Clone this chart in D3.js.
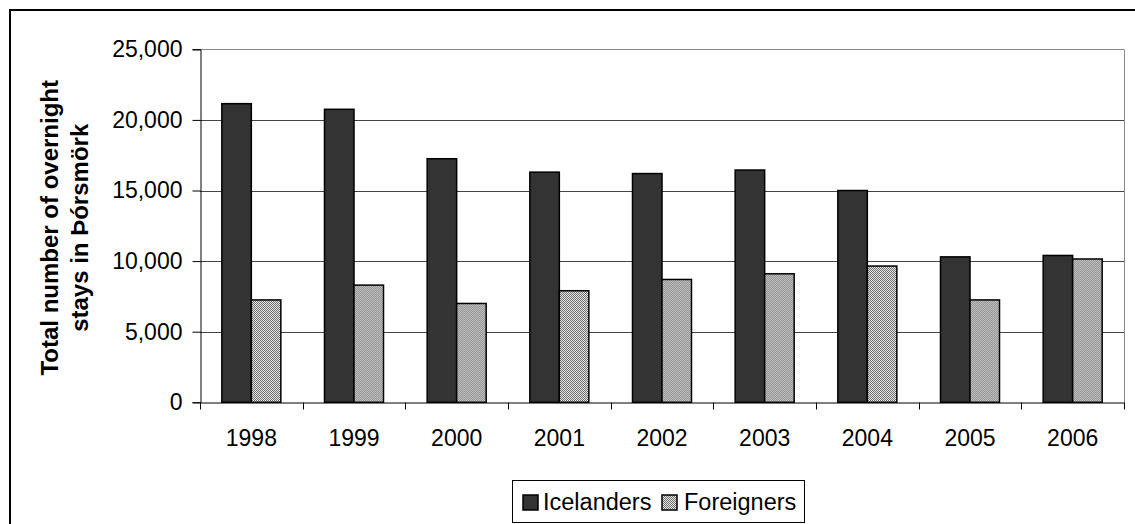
<!DOCTYPE html>
<html>
<head>
<meta charset="utf-8">
<script src="https://cdn.jsdelivr.net/npm/d3@7/dist/d3.min.js"></script>
<style>
  html, body { margin: 0; padding: 0; background: #fff; }
  svg { display: block; font-family: "Liberation Sans", Arial, sans-serif; }
</style>
</head>
<body>
<svg id="chart" width="1135" height="524"></svg>
<script>
const years = ["1998", "1999", "2000", "2001", "2002", "2003", "2004", "2005", "2006"];
const icelanders = [21150, 20750, 17250, 16300, 16200, 16450, 15000, 10300, 10400];
const foreigners = [7250, 8300, 7000, 7900, 8700, 9100, 9650, 7250, 10150];
const seriesNames = ["Icelanders", "Foreigners"];
const yTicks = [0, 5000, 10000, 15000, 20000, 25000];

const svg = d3.select("#chart");
const W = 1135, H = 524;
const plot = { left: 200, right: 1124, top: 49.3, bottom: 402.3 };

// pattern for foreigners
const defs = svg.append("defs");
const pat = defs.append("pattern").attr("id", "chk").attr("patternUnits", "userSpaceOnUse")
  .attr("width", 2).attr("height", 2);
pat.append("rect").attr("width", 2).attr("height", 2).attr("fill", "#e6e6e6");
pat.append("rect").attr("x", 0).attr("y", 0).attr("width", 1).attr("height", 1).attr("fill", "#6e6e6e");
pat.append("rect").attr("x", 1).attr("y", 1).attr("width", 1).attr("height", 1).attr("fill", "#6e6e6e");

// outer border
svg.append("rect").attr("x", 10).attr("y", 10).attr("width", W).attr("height", H)
  .attr("fill", "none").attr("stroke", "#000").attr("stroke-width", 2);

const x = d3.scaleBand().domain(years).range([plot.left, plot.right]).paddingInner(0).paddingOuter(0);
const xs = d3.scaleBand().domain(seriesNames).range([0, x.bandwidth()]).paddingInner(0).paddingOuter(0.74);
const y = d3.scaleLinear().domain([0, 25000]).range([plot.bottom, plot.top]);

// gridlines
svg.append("g").selectAll("line").data(yTicks.filter(d => d > 0)).join("line")
  .attr("x1", plot.left).attr("x2", plot.right)
  .attr("y1", d => Math.round(y(d)) + 0.5).attr("y2", d => Math.round(y(d)) + 0.5)
  .attr("stroke", d => d === 25000 ? "#888" : "#444").attr("stroke-width", 1);

// right plot border
svg.append("line").attr("x1", plot.right + 0.5).attr("x2", plot.right + 0.5)
  .attr("y1", Math.round(plot.top) + 0.5).attr("y2", plot.bottom)
  .attr("stroke", "#888").attr("stroke-width", 1);

// bars
const data = years.map((yr, i) => ({ year: yr, values: [icelanders[i], foreigners[i]] }));
const groups = svg.append("g").selectAll("g").data(data).join("g")
  .attr("transform", d => `translate(${x(d.year)},0)`);
groups.selectAll("rect").data(d => d.values.map((v, k) => ({ k, v }))).join("rect")
  .attr("x", d => xs(seriesNames[d.k]))
  .attr("width", xs.bandwidth())
  .attr("y", d => y(d.v))
  .attr("height", d => y(0) - y(d.v))
  .attr("fill", d => d.k === 0 ? "#333333" : "url(#chk)")
  .attr("stroke", "#000").attr("stroke-width", 1.5);

// y axis
const yAxis = d3.axisLeft(y).tickValues(yTicks).tickSize(8).tickPadding(10)
  .tickFormat(d3.format(","));
const gy = svg.append("g").attr("transform", `translate(${plot.left + 0.5},0)`).call(yAxis);
gy.selectAll("path.domain").attr("stroke", "#000");
gy.selectAll(".tick line").attr("stroke", "#000");
gy.selectAll("text").attr("font-size", 23).attr("fill", "#000")
  .attr("font-family", "Liberation Sans, Arial, sans-serif");

// x axis
const xAxis = d3.axisBottom(x).tickSize(0).tickPadding(0);
const gx = svg.append("g").attr("transform", `translate(0,${Math.round(plot.bottom) + 0.5})`).call(xAxis);
gx.selectAll("path.domain").attr("stroke", "#000");
gx.selectAll("text").attr("font-size", 23).attr("fill", "#000")
  .attr("font-family", "Liberation Sans, Arial, sans-serif")
  .attr("dy", null).attr("y", 43);
// tick marks at band boundaries
const bounds = years.map(d => x(d)).concat([plot.right]);
gx.append("g").selectAll("line").data(bounds).join("line")
  .attr("x1", d => Math.round(d) + 0.5).attr("x2", d => Math.round(d) + 0.5)
  .attr("y1", 0).attr("y2", 7).attr("stroke", "#000");

// y axis title
const title = svg.append("text")
  .attr("transform", `translate(58,${(plot.top + plot.bottom) / 2 + 2}) rotate(-90)`)
  .attr("text-anchor", "middle").attr("font-size", 24).attr("font-weight", "bold").attr("fill", "#000");
title.append("tspan").attr("x", 0).attr("dy", 0).text("Total number of overnight");
title.append("tspan").attr("x", 0).attr("dy", 30).text("stays in Þórsmörk");

// legend
const lg = svg.append("g");
lg.append("rect").attr("x", 512.5).attr("y", 480.5).attr("width", 292).attr("height", 42)
  .attr("fill", "#fff").attr("stroke", "#000").attr("stroke-width", 1);
const legendItems = [
  { name: seriesNames[0], sx: 523, tx: 543, fill: "#333333" },
  { name: seriesNames[1], sx: 662, tx: 684, fill: "url(#chk)" }
];
legendItems.forEach(it => {
  lg.append("rect").attr("x", it.sx).attr("y", 495).attr("width", 15).attr("height", 15)
    .attr("fill", it.fill).attr("stroke", "#000").attr("stroke-width", 1.5);
  lg.append("text").attr("x", it.tx).attr("y", 510).attr("font-size", 23.5).attr("fill", "#000").text(it.name);
});
</script>
</body>
</html>
